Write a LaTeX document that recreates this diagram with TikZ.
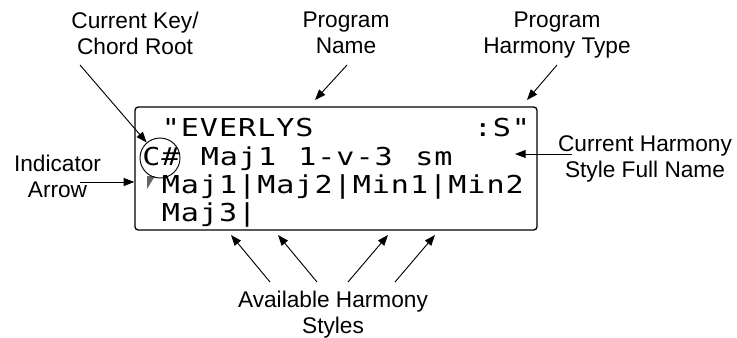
\documentclass[tikz,border=0pt]{standalone}
\usepackage{fontspec}
\setmainfont{Liberation Sans}
\newfontfamily\lcdfont[FakeStretch=1.22,LetterSpace=4]{DejaVu Sans Mono}
\usepackage{tikz}
\usetikzlibrary{calc}
\usetikzlibrary{positioning}
\usetikzlibrary{arrows.meta}

\begin{document}
\begin{tikzpicture}[x=0.75pt,y=-0.75pt,
  lbl/.style={align=center,inner sep=0pt,anchor=base,font=\fontsize{17}{19.5}\selectfont},
  lcdtext/.style={inner sep=0pt,anchor=base west,font=\lcdfont\fontsize{18.5}{18.5}\selectfont},
  arr/.style={-{Triangle[length=8pt,width=6pt]},line width=0.7pt},
  lcdbox/.style={draw,line width=1pt,rounded corners=2.5pt,minimum width=301.5pt,minimum height=92.25pt,inner sep=0pt}]
\useasboundingbox (0,0) rectangle (737,337);

% the display
\node[lcdbox] (lcd) at (336,168.5) {};
\node[lcdtext] (pname) at (161.5,136) {"EVERLYS};
\node[lcdtext] (ptype) at (473.5,136) {:S"};
\node[lcdtext] (croot) at (142,165) {C\#};
\node[lcdtext] (hname) at (200.5,165) {Maj1};
\node[lcdtext] (hvoice) at (298,165) {1-v-3};
\node[lcdtext] (hsize) at (415,165) {sm};
\node[lcdtext] (hlist) at (161.5,193) {Maj1|Maj2|Min1|Min2};
\node[lcdtext] (hmore) at (161.5,221) {Maj3|};
\fill[black!60] (147,176) -- (155,176) -- (147,189) -- cycle;
\node[draw,circle,minimum size=30pt,inner sep=0pt,line width=0.7pt] (keyring) at (160,158) {};

% labels
\node[lbl] (keylbl) at (135,54) {Current Key/\\Chord Root};
\node[lbl] (namelbl) at (346,53) {Program\\Name};
\node[lbl] (typelbl) at (557,53) {Program\\Harmony Type};
\node[lbl] (indlbl) at (57.5,197) {Indicator\\Arrow};
\node[lbl] (fulllbl) at (645,177) {Current Harmony\\Style Full Name};
\node[lbl] (availlbl) at (333,333) {Available Harmony\\Styles};

% arrows
\coordinate (keytail) at (80,65);
\draw[arr] (keytail) -- (keyring);
\coordinate (nametail) at (347,65);
\coordinate (namehead) at (315,100);
\draw[arr] (nametail) -- (namehead);
\coordinate (typetail) at (557,65);
\coordinate (typehead) at (527,100);
\draw[arr] (typetail) -- (typehead);
\coordinate (indtail) at (80,182);
\draw[arr] (indtail) -- (indtail -| lcd.west);
\coordinate (fulltail) at (572,154);
\coordinate (fullhead) at (515,154);
\draw[arr] (fulltail) -- (fullhead);
\foreach \i/\a/\b in {1/270/231,2/317/278,3/348/388,4/395/435}{
  \coordinate (avtail\i) at (\a,282);
  \coordinate (avhead\i) at (\b,235);
  \draw[arr] (avtail\i) -- (avhead\i);
}
\end{tikzpicture}
\end{document}
